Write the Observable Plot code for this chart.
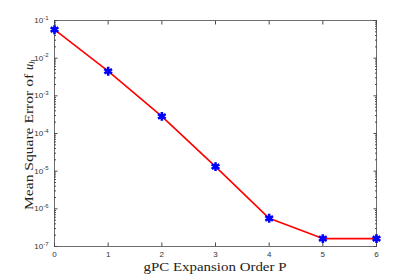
<!DOCTYPE html>
<html>
<head>
<meta charset="utf-8">
<script src="https://cdn.jsdelivr.net/npm/d3@7"></script>
<script src="https://cdn.jsdelivr.net/npm/@observablehq/plot@0.6"></script>
<style>
html,body{margin:0;padding:0;background:#fff;}
</style>
</head>
<body>
<div id="chart"></div>
<script>
const order = [0, 1, 2, 3, 4, 5, 6];
const mse = [0.057, 0.0045, 2.85e-4, 1.32e-5, 5.6e-7, 1.62e-7, 1.62e-7];
const yMajor = [1e-7, 1e-6, 1e-5, 1e-4, 1e-3, 1e-2, 1e-1];
const xTicks = [0, 1, 2, 3, 4, 5, 6];

const data = order.map((p, i) => ({p, v: mse[i]}));
const yMinor = [];
for (let e = -7; e < -1; e++) for (let k = 2; k <= 9; k++) yMinor.push(k * Math.pow(10, e));

const axisColor = "#4a4a4a";
const chart = Plot.plot({
  width: 415,
  height: 277,
  marginLeft: 54,
  marginRight: 39,
  marginTop: 20,
  marginBottom: 31,
  style: {background: "#fff", fontFamily: "'Liberation Sans', Arial, sans-serif", fontSize: "8px", color: "#333"},
  x: {domain: [0, 6]},
  y: {type: "log", domain: [1e-7, 1e-1]},
  marks: [
    Plot.frame({stroke: axisColor, strokeWidth: 0.8}),
    Plot.axisX(xTicks, {anchor: "bottom", tickSize: -3.5, tickPadding: 8, stroke: axisColor, fill: "#333", label: null, tickFormat: d => String(d)}),
    Plot.axisX(xTicks, {anchor: "top", tickSize: -3.5, stroke: axisColor, label: null, tickFormat: () => ""}),
    Plot.axisY(yMajor, {anchor: "left", tickSize: -3.5, tickPadding: 9.5, stroke: axisColor, fill: "#333", label: null, tickFormat: d => String(Math.round(Math.log10(d)))}),
    Plot.axisY(yMajor, {anchor: "right", tickSize: -3.5, stroke: axisColor, label: null, tickFormat: () => ""}),
    Plot.axisY(yMinor, {anchor: "left", tickSize: -2, stroke: axisColor, label: null, tickFormat: () => ""}),
    Plot.axisY(yMinor, {anchor: "right", tickSize: -2, stroke: axisColor, label: null, tickFormat: () => ""}),
    Plot.line(data, {x: "p", y: "v", stroke: "#ff0000", strokeWidth: 1.6}),
    Plot.dot(data, {x: "p", y: "v", symbol: "asterisk", r: 4.2, stroke: "#0000ff", strokeWidth: 2.6})
  ]
});

// superscript tick labels on y
d3.select(chart).selectAll("g[aria-label='y-axis tick label'] text").each(function() {
  const t = d3.select(this);
  const ex = t.text();
  if (ex === "") return;
  t.text("");
  t.append("tspan").text("10");
  t.append("tspan").attr("dy", "-0.55em").attr("font-size", "6px").text(ex);
});

document.getElementById("chart").appendChild(chart);

const svg = d3.select(chart);
svg.append("text")
  .attr("x", 215).attr("y", 270.5)
  .attr("text-anchor", "middle")
  .attr("font-family", "'Liberation Serif', 'DejaVu Serif', serif")
  .attr("font-size", "12px")
  .attr("fill", "#222")
  .attr("textLength", 143)
  .attr("lengthAdjust", "spacingAndGlyphs")
  .text("gPC Expansion Order P");

const g = svg.append("g").attr("transform", "translate(32.5,134) rotate(-90)");
const yl = g.append("text")
  .attr("x", -76).attr("y", 0)
  .attr("text-anchor", "start")
  .attr("font-family", "'Liberation Serif', 'DejaVu Serif', serif")
  .attr("font-size", "12.5px")
  .attr("fill", "#222");
yl.append("tspan").attr("textLength", 140).attr("lengthAdjust", "spacingAndGlyphs").text("Mean Square Error of ");
yl.append("tspan").attr("font-style", "italic").text("u");
yl.append("tspan").attr("font-style", "italic").attr("font-size", "8.5px").attr("dy", "0.3em").text("h");
</script>
</body>
</html>
